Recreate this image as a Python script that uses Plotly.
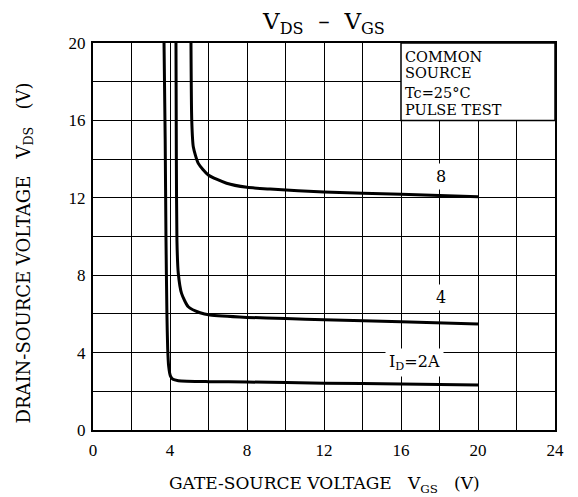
import plotly.graph_objects as go

# Data
vgs_2A = [3.69, 3.75, 3.79, 3.84, 3.88, 3.93, 4.02, 4.15, 4.43, 6, 8, 12, 16, 20]
vds_2A = [20, 15, 10, 6, 4.2, 3.3, 2.8, 2.62, 2.55, 2.5, 2.48, 2.42, 2.38, 2.33]

vgs_4A = [4.31, 4.33, 4.36, 4.43, 4.6, 4.95, 5.56, 6.08, 8, 10, 12, 16, 20]
vds_4A = [20, 14, 9.8, 8.1, 7.06, 6.37, 6.06, 5.94, 5.82, 5.76, 5.7, 5.6, 5.48]

vgs_8A = [5.09, 5.13, 5.21, 5.47, 5.99, 6.94, 8, 9.2, 12, 16, 20]
vds_8A = [20, 16, 14.64, 13.78, 13.18, 12.75, 12.54, 12.45, 12.3, 12.18, 12.06]

x_ticks = [0, 2, 4, 6, 8, 10, 12, 14, 16, 18, 20, 22, 24]
x_tick_text = ["0", "", "4", "", "8", "", "12", "", "16", "", "20", "", "24"]
y_ticks = [0, 2, 4, 6, 8, 10, 12, 14, 16, 18, 20]
y_tick_text = ["0", "", "4", "", "8", "", "12", "", "16", "", "20"]

curve_labels = ["8", "4", "I<sub>D</sub>=2A"]
label_x = [18.1, 18.1, 16.7]
label_y = [13.1, 6.85, 3.5]

cond_lines = ["COMMON", "SOURCE", "Tc=25°C", "PULSE TEST"]
cond_y = [19.30, 18.43, 17.43, 16.52]

SERIF = "Liberation Serif"
WIDE = "DejaVu Serif"

fig = go.Figure()
for xs, ys in [(vgs_2A, vds_2A), (vgs_4A, vds_4A), (vgs_8A, vds_8A)]:
    fig.add_trace(go.Scatter(x=xs, y=ys, mode="lines",
                             line=dict(color="black", width=3, shape="spline", smoothing=0.6),
                             showlegend=False, hoverinfo="skip"))

axis_common = dict(showline=True, linecolor="black", linewidth=2, mirror=True,
                   showgrid=True, gridcolor="black", gridwidth=1, zeroline=False,
                   ticks="", tickfont=dict(family=SERIF, size=17, color="black"))

fig.update_xaxes(range=[0, 24], tickvals=x_ticks, ticktext=x_tick_text, ticklabelstandoff=4,
                 **axis_common)
fig.update_yaxes(range=[0, 20], tickvals=y_ticks, ticktext=y_tick_text, ticklabelstandoff=2,
                 **axis_common)

# Condition box
fig.add_shape(type="rect", x0=16, x1=24, y0=16, y1=20, xref="x", yref="y",
              fillcolor="white", line=dict(color="black", width=1.5), layer="above")
for t, cy in zip(cond_lines, cond_y):
    fig.add_annotation(x=16.18, y=cy, xref="x", yref="y", xanchor="left", yanchor="middle",
                       text=t, showarrow=False, borderpad=0,
                       font=dict(family=WIDE, size=14.5, color="black"))

for t, lx, ly in zip(curve_labels, label_x, label_y):
    fig.add_annotation(x=lx, y=ly, xref="x", yref="y", text=t, showarrow=False,
                       bgcolor="white", borderpad=3,
                       font=dict(family=WIDE, size=16, color="black"))

W, H = 570, 489
L, R, T, B = 85, 23, 35, 67
PW, PH = W - L - R, H - T - B

fig.update_layout(
    width=W, height=H,
    margin=dict(l=L, r=R, t=T, b=B),
    plot_bgcolor="white", paper_bgcolor="white",
    title=dict(text="V<sub>DS</sub>  –  V<sub>GS</sub>",
               x=(L + PW / 2) / W, xanchor="center", xref="container",
               y=1 - 13 / H, yanchor="middle",
               font=dict(family=WIDE, size=23, color="black")),
)

fig.add_annotation(x=0.5, xref="paper", y=-(476 - (T + PH)) / PH, yref="paper",
                   yanchor="middle",
                   text="GATE-SOURCE VOLTAGE   V<sub>GS</sub>   (V)", showarrow=False,
                   font=dict(family=WIDE, size=17, color="black"))
fig.add_annotation(x=(16 - L) / PW, xref="paper", y=1 - (245.5 - T) / PH, yref="paper",
                   xanchor="center", yanchor="middle",
                   text="DRAIN-SOURCE VOLTAGE   V<sub>DS</sub>   (V)", showarrow=False,
                   textangle=-90, font=dict(family=WIDE, size=18, color="black"))

fig.write_html("out.html")
